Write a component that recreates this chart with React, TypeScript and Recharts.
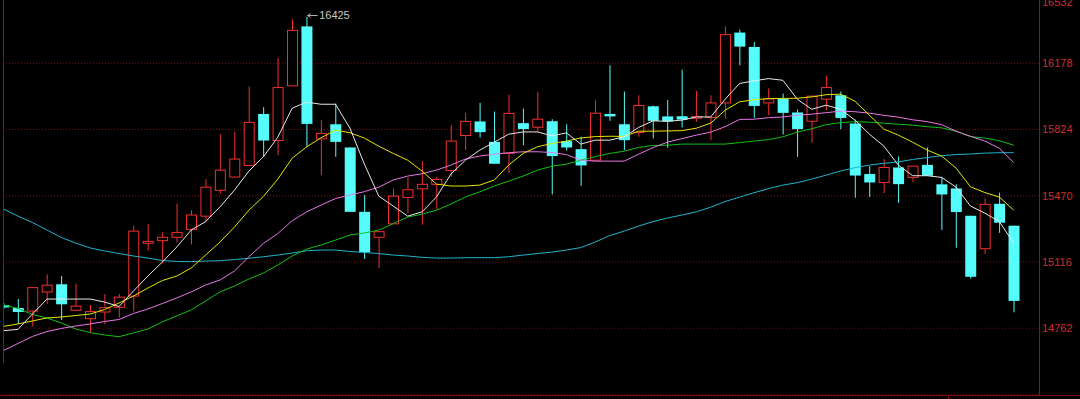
import {
  Bar,
  CartesianGrid,
  ComposedChart,
  Line,
  ReferenceDot,
  XAxis,
  YAxis,
} from "recharts";

// daily bars, left to right (first one is half cut by the left edge)
const OPEN = [
  14886, 14870, 14854, 14956, 14997, 14858, 14813, 14849, 14874, 14934,
  15216, 15230, 15248, 15290, 15361, 15499, 15570, 15632, 15907, 15765,
  16057, 16375, 15774, 15852, 15728, 15384, 15248, 15320, 15461, 15507,
  15531, 15605, 15792, 15867, 15758, 15696, 15858, 15836, 15868, 15762,
  15719, 15660, 15907, 15852, 15808, 15948, 15894, 15895, 15884, 15888,
  15966, 16342, 16265, 15966, 15987, 15915, 15868, 15986, 16007, 15856,
  15586, 15541, 15621, 15568, 15635, 15531, 15509, 15363, 15187, 15427,
  15310,
];
const HIGH = [
  14897, 14918, 14979, 15050, 15041, 15000, 14886, 14945, 14945, 15310,
  15319, 15274, 15428, 15393, 15559, 15799, 15811, 16054, 15943, 16206,
  16412, 16425, 15874, 15963, 15728, 15474, 15278, 15509, 15568, 15653,
  15571, 15847, 15913, 15966, 15920, 16009, 15936, 16025, 15879, 15852,
  15785, 15981, 16167, 16027, 16007, 15952, 15981, 16144, 16030, 16007,
  16375, 16358, 16292, 16043, 16016, 15931, 16007, 16112, 16027, 15877,
  15628, 15666, 15680, 15628, 15728, 15571, 15531, 15363, 15456, 15486,
  15310,
];
const LOW = [
  14865, 14785, 14771, 14892, 14806, 14858, 14739, 14783, 14819, 14851,
  15176, 15109, 15220, 15210, 15328, 15480, 15570, 15632, 15678, 15687,
  16057, 15731, 15580, 15678, 15384, 15132, 15084, 15320, 15377, 15315,
  15395, 15571, 15714, 15781, 15641, 15593, 15740, 15811, 15477, 15712,
  15523, 15660, 15870, 15714, 15785, 15776, 15726, 15835, 15865, 15767,
  15883, 16167, 15886, 15900, 15797, 15678, 15753, 15927, 15826, 15459,
  15464, 15483, 15432, 15544, 15577, 15287, 15192, 15027, 15159, 15272,
  14847,
];
const CLOSE = [
  14873, 14849, 14979, 14992, 14890, 14880, 14851, 14872, 14928, 15281,
  15226, 15248, 15273, 15367, 15516, 15607, 15666, 15862, 15765, 16048,
  16354, 15854, 15803, 15758, 15384, 15168, 15278, 15468, 15502, 15531,
  15557, 15762, 15867, 15810, 15641, 15910, 15826, 15879, 15682, 15728,
  15632, 15911, 15894, 15767, 15952, 15870, 15867, 15877, 15894, 15966,
  16331, 16267, 15950, 15987, 15913, 15826, 16002, 16048, 15886, 15578,
  15541, 15621, 15532, 15628, 15577, 15477, 15383, 15037, 15424, 15326,
  14908,
];

// moving averages
const MA5 = [
  14749, 14756, 14838, 14918, 14918, 14918, 14918, 14902, 14878, 14961,
  15041, 15116, 15196, 15287, 15332, 15411, 15500, 15602, 15678, 15783,
  15938, 15970, 15959, 15959, 15831, 15639, 15468, 15415, 15361, 15384,
  15464, 15586, 15660, 15714, 15756, 15799, 15811, 15811, 15790, 15806,
  15746, 15767, 15767, 15785, 15835, 15870, 15868, 15874, 15891, 15891,
  15986, 16070, 16084, 16096, 16087, 15986, 15932, 15954, 15932, 15874,
  15799, 15735, 15634, 15577, 15577, 15568, 15516, 15415, 15377, 15332,
  15216,
];
const MA10 = [
  14772, 14785, 14801, 14817, 14822, 14830, 14838, 14862, 14897, 14934,
  14977, 15017, 15041, 15084, 15153, 15223, 15303, 15393, 15466, 15559,
  15671, 15731, 15780, 15820, 15807, 15778, 15735, 15696, 15660, 15602,
  15532, 15522, 15522, 15527, 15554, 15634, 15696, 15732, 15749, 15762,
  15779, 15786, 15788, 15787, 15815, 15815, 15816, 15818, 15831, 15858,
  15927, 15972, 15983, 15989, 15990, 15991, 15998, 16010, 16013, 15975,
  15900, 15826, 15794, 15756, 15714, 15682, 15618, 15518, 15487, 15463,
  15393,
];
const MA20 = [
  14643, 14681, 14718, 14744, 14761, 14774, 14785, 14798, 14809, 14841,
  14865, 14894, 14924, 14956, 14993, 15020, 15068, 15144, 15215, 15268,
  15337, 15384, 15420, 15455, 15474, 15492, 15516, 15554, 15575, 15588,
  15607, 15634, 15666, 15682, 15692, 15700, 15705, 15705, 15701, 15690,
  15660, 15655, 15655, 15655, 15692, 15727, 15756, 15775, 15794, 15810,
  15839, 15878, 15879, 15887, 15891, 15900, 15906, 15914, 15922, 15919,
  15911, 15900, 15890, 15876, 15866, 15850, 15815, 15788, 15762, 15724,
  15647,
];
const MA40 = [
  14886, 14868, 14836, 14817, 14790, 14758, 14739, 14726, 14717, 14737,
  14758, 14796, 14828, 14860, 14908, 14956, 14988, 15025, 15057, 15100,
  15148, 15185, 15207, 15233, 15260, 15271, 15287, 15321, 15356, 15372,
  15393, 15426, 15463, 15491, 15522, 15548, 15575, 15607, 15628, 15639,
  15660, 15679, 15696, 15708, 15728, 15739, 15740, 15746, 15746, 15746,
  15746, 15754, 15762, 15770, 15785, 15810, 15828, 15850, 15860, 15866,
  15863, 15858, 15852, 15847, 15839, 15833, 15815, 15786, 15778, 15764,
  15740,
];
const MA60 = [
  15399, 15361, 15327, 15287, 15247, 15217, 15191, 15175, 15161, 15148,
  15137, 15124, 15119, 15118, 15121, 15123, 15129, 15136, 15144, 15153,
  15164, 15176, 15180, 15180, 15172, 15167, 15161, 15153, 15148, 15141,
  15137, 15137, 15139, 15139, 15139, 15144, 15153, 15161, 15169, 15180,
  15193, 15223, 15257, 15281, 15308, 15332, 15351, 15367, 15384, 15409,
  15439, 15463, 15486, 15508, 15527, 15540, 15559, 15580, 15602, 15620,
  15634, 15643, 15651, 15664, 15674, 15684, 15690, 15693, 15698, 15700,
  15700,
];

const PRICE_TICKS = [14762, 15116, 15470, 15824, 16178, 16532];
const PEAK_INDEX = 21;
const PEAK_PRICE = 16425;

const UP = "#f23030";
const DOWN = "#54fcfc";
const FRAME = "#8c1414";
const FONT = "'Liberation Sans', Arial, sans-serif";

const data = OPEN.map((open, i) => ({
  i,
  open,
  high: HIGH[i],
  low: LOW[i],
  close: CLOSE[i],
  ma5: MA5[i],
  ma10: MA10[i],
  ma20: MA20[i],
  ma40: MA40[i],
  ma60: MA60[i],
}));

function Candle(props: any) {
  const { x, y, width, height, payload } = props;
  if (x == null || !payload) return null;
  const { open, close, high, low } = payload;
  const top = Math.min(y, y + height);
  const h = Math.abs(height);
  const k = h / (high - low || 1);
  const at = (v: number) => top + (high - v) * k;
  const cx = x + width / 2;

  if (close >= open) {
    const bodyTop = at(close);
    const bodyBottom = at(open);
    return (
      <g>
        <line x1={cx} x2={cx} y1={top} y2={bodyTop} stroke={UP} />
        <line x1={cx} x2={cx} y1={bodyBottom} y2={top + h} stroke={UP} />
        <rect
          x={cx - 5}
          y={bodyTop}
          width={10}
          height={Math.max(bodyBottom - bodyTop, 0.5)}
          fill="#000"
          stroke={UP}
        />
      </g>
    );
  }
  const bodyTop = at(open);
  const bodyBottom = at(close);
  return (
    <g>
      <line x1={cx} x2={cx} y1={top} y2={top + h} stroke={DOWN} />
      <rect
        x={cx - 5.5}
        y={bodyTop}
        width={11}
        height={Math.max(bodyBottom - bodyTop, 1)}
        fill={DOWN}
      />
    </g>
  );
}

function PeakLabel({ cx, cy }: any) {
  if (cx == null) return null;
  const yy = cy - 1.5;
  return (
    <g>
      <path
        d={`M${cx + 1},${yy} H${cx + 11} M${cx + 1},${yy} l3,-2 M${cx + 1},${yy} l3,2`}
        stroke="#b4b4b4"
        fill="none"
      />
      <text
        x={cx + 12.5}
        y={yy}
        dy="0.36em"
        fill="#c8c8c8"
        fontSize={11}
        fontFamily={FONT}
      >
        {PEAK_PRICE}
      </text>
    </g>
  );
}

export default function App() {
  return (
    <div
      style={{
        position: "absolute",
        left: 0,
        top: 0,
        width: 1080,
        height: 399,
        background: "#000",
        overflow: "hidden",
      }}
    >
      <div style={{ position: "absolute", left: 0, top: -4 }}>
        <ComposedChart
          width={1080}
          height={404}
          data={data}
          margin={{ top: 1, right: 0, bottom: 5.5, left: 3 }}
        >
          <CartesianGrid
            horizontal
            vertical={false}
            stroke="#7a0c0c"
            strokeDasharray="1 2"
          />
          <XAxis
            dataKey="i"
            type="number"
            domain={[-0.042, 71.75]}
            allowDataOverflow
            hide
          />
          <YAxis
            orientation="right"
            width={41}
            domain={[14408, 16532]}
            ticks={PRICE_TICKS}
            allowDataOverflow
            axisLine={false}
            tickLine={false}
            tickSize={0}
            tickMargin={3}
            tick={{ fill: "#d22b2b", fontSize: 11, fontFamily: FONT, textAnchor: "start" }}
          />
          <Bar
            dataKey={(d: any) => [d.low, d.high]}
            barSize={11}
            shape={Candle}
            isAnimationActive={false}
          />
          <Line dataKey="ma60" stroke="#1fb4cc" strokeWidth={1} dot={false} type="linear" isAnimationActive={false} />
          <Line dataKey="ma40" stroke="#12c012" strokeWidth={1} dot={false} type="linear" isAnimationActive={false} />
          <Line dataKey="ma20" stroke="#e878e8" strokeWidth={1} dot={false} type="linear" isAnimationActive={false} />
          <Line dataKey="ma10" stroke="#e6e600" strokeWidth={1} dot={false} type="linear" isAnimationActive={false} />
          <Line dataKey="ma5" stroke="#e8e8e8" strokeWidth={1} dot={false} type="linear" isAnimationActive={false} />
          <ReferenceDot
            x={PEAK_INDEX}
            y={PEAK_PRICE}
            r={0}
            ifOverflow="visible"
            shape={PeakLabel}
          />
        </ComposedChart>
      </div>
      {/* frame lines of the trading terminal */}
      <div style={{ position: "absolute", left: 3, top: 0, width: 1, height: 363, background: FRAME }} />
      <div style={{ position: "absolute", left: 1039, top: 0, width: 1, height: 395, background: FRAME }} />
      <div style={{ position: "absolute", left: 0, top: 395, width: 1080, height: 1, background: "#7a0a0a" }} />
      <div style={{ position: "absolute", left: 948, top: 395, width: 1, height: 4, background: "#7a0a0a" }} />
    </div>
  );
}
